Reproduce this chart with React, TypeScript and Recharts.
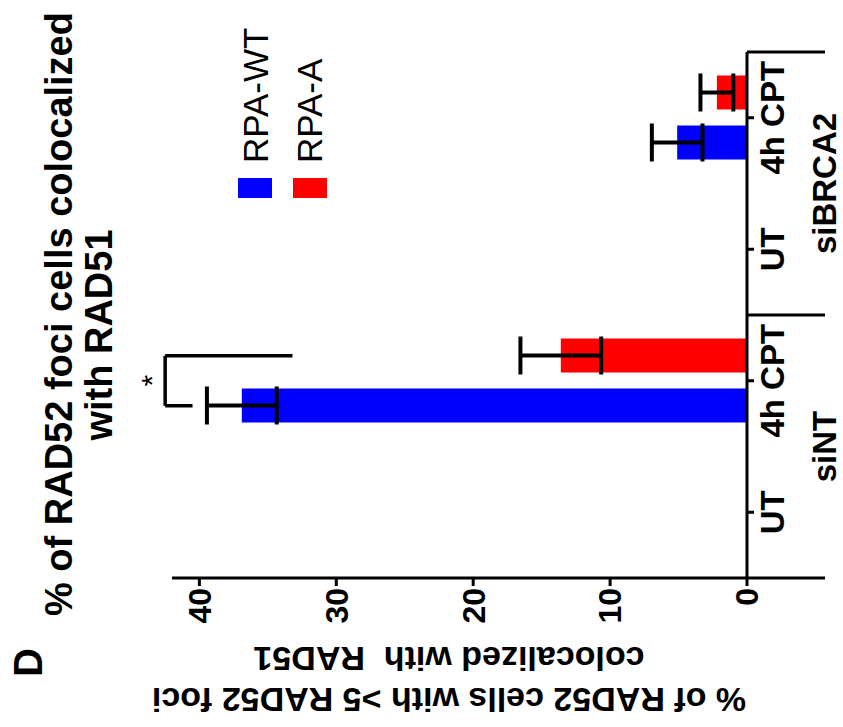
import { BarChart, Bar, XAxis, YAxis, ErrorBar, ReferenceLine, ReferenceDot } from 'recharts';

// categories along the x axis, grouped in pairs
const categories = ['UT', '4h CPT', 'UT', '4h CPT'];
const groups = ['siNT', 'siBRCA2'];

// % of RAD52 cells with >5 RAD52 foci colocalized with RAD51 (mean ± error)
const rpaWT = [null, 36.9, null, 5.1];
const rpaWTErr = [null, 2.55, null, 1.85];
const rpaA = [null, 13.6, null, 2.2];
const rpaAErr = [null, 2.95, null, 1.2];

const valueTicks = [0, 10, 20, 30, 40];

// significance bracket over siNT 4h CPT
const bracketTop = 42.5;
const bracketWT = 40.5;
const bracketA = 33.2;
const starLevel = 43.5;

const series = [
  { key: 'wt', err: 'wtErr', name: 'RPA-WT', color: '#0000ff' },
  { key: 'a', err: 'aErr', name: 'RPA-A', color: '#ff0000' },
];

const data = categories.map((c, i) => ({
  id: `${groups[Math.floor(i / 2)]} ${c}`,
  pos: i + 0.5,
  wt: rpaWT[i],
  wtErr: rpaWTErr[i],
  a: rpaA[i],
  aErr: rpaAErr[i],
}));

// the figure is drawn upright and then turned a quarter turn to the left
const W = 727;
const H = 843;
const PLOT_LEFT = 149;
const PLOT_RIGHT = 675;
const PLOT_TOP = 172;
const PLOT_BOTTOM = 747;
const YAXIS_W = 110;
const XAXIS_H = 90;
const BAND = (PLOT_RIGHT - PLOT_LEFT) / categories.length;
const BAR_SIZE = 34;
const BAR_GAP = 16;
const FONT = '"Liberation Sans", Arial, Helvetica, sans-serif';

const barShift = (BAR_SIZE + BAR_GAP) / 2 / BAND;

function CategoryTick(props: any) {
  const { x, index } = props;
  const half = BAND / 2;
  const seps: number[] = [];
  if (index % 2 === 0) seps.push(x - half);
  if (index === categories.length - 1) seps.push(x + half);
  return (
    <g>
      {seps.map((sx) => (
        <line key={sx} x1={sx} x2={sx} y1={PLOT_BOTTOM} y2={PLOT_BOTTOM + 78} stroke="#000" strokeWidth={3} />
      ))}
      <text x={x} y={PLOT_BOTTOM + 37} textAnchor="middle" fontSize={33} fontWeight="bold" fontFamily={FONT} fill="#000">
        {categories[index]}
      </text>
      {index % 2 === 0 && (
        <text x={x + half} y={PLOT_BOTTOM + 89} textAnchor="middle" fontSize={33} fontWeight="bold" fontFamily={FONT} fill="#000">
          {groups[index / 2]}
        </text>
      )}
    </g>
  );
}

function ValueTitle() {
  const cy = 449;
  return (
    <g fontFamily={FONT} fontWeight="bold" fontSize={34} fill="#000">
      <text x={39} y={cy} textAnchor="middle" transform={`rotate(-90 39 ${cy})`}>
        % of RAD52 cells with &gt;5 RAD52 foci
      </text>
      <text x={80} y={cy} textAnchor="middle" transform={`rotate(-90 80 ${cy})`} style={{ whiteSpace: 'pre' }}>
        {'colocalized with  RAD51'}
      </text>
    </g>
  );
}

export default function App() {
  const c = 1.5; // centre of siNT 4h CPT on the hidden numeric axis
  const bracket = { xAxisId: 'num', stroke: '#000', strokeWidth: 3.5, ifOverflow: 'visible' as const };
  return (
    <div style={{ position: 'fixed', left: 0, top: 0, width: H, height: W, overflow: 'hidden', background: '#fff' }}>
      <div
        style={{
          position: 'absolute',
          left: 0,
          top: 0,
          width: W,
          height: H,
          transformOrigin: '0 0',
          transform: `translate(0px, ${W}px) rotate(-90deg)`,
        }}
      >
        <BarChart
          width={W}
          height={H}
          data={data}
          barGap={BAR_GAP}
          margin={{
            top: PLOT_TOP,
            right: W - PLOT_RIGHT,
            left: PLOT_LEFT - YAXIS_W,
            bottom: H - PLOT_BOTTOM - XAXIS_H,
          }}
        >
          <XAxis
            xAxisId="cat"
            dataKey="id"
            type="category"
            height={XAXIS_H}
            axisLine={{ stroke: '#000', strokeWidth: 3 }}
            tickLine={{ stroke: '#000', strokeWidth: 3 }}
            tickSize={7}
            tickMargin={0}
            interval={0}
            tick={<CategoryTick />}
          />
          <XAxis
            xAxisId="num"
            dataKey="pos"
            type="number"
            domain={[0, categories.length]}
            allowDataOverflow
            hide
          />
          <YAxis
            type="number"
            domain={[0, 42]}
            ticks={valueTicks}
            width={YAXIS_W}
            axisLine={{ stroke: '#000', strokeWidth: 3 }}
            tickLine={{ stroke: '#000', strokeWidth: 3 }}
            tickSize={8}
            tickMargin={2}
            tick={{ fill: '#000', fontSize: 32, fontWeight: 'bold', fontFamily: FONT }}
            label={<ValueTitle />}
          />
          {series.map((s) => (
            <Bar key={s.key} xAxisId="cat" dataKey={s.key} name={s.name} fill={s.color} barSize={BAR_SIZE} isAnimationActive={false}>
              <ErrorBar dataKey={s.err} width={19} strokeWidth={4} stroke="#000" direction="y" />
            </Bar>
          ))}
          <ReferenceLine {...bracket} segment={[{ x: c - barShift, y: bracketTop }, { x: c + barShift, y: bracketTop }]} />
          <ReferenceLine {...bracket} segment={[{ x: c - barShift, y: bracketTop }, { x: c - barShift, y: bracketWT }]} />
          <ReferenceLine {...bracket} segment={[{ x: c + barShift, y: bracketTop }, { x: c + barShift, y: bracketA }]} />
          <ReferenceDot
            xAxisId="num"
            x={c}
            y={starLevel}
            r={0}
            fill="none"
            stroke="none"
            ifOverflow="visible"
            label={{ value: '*', position: 'center', fontSize: 30, fill: '#000', fontFamily: FONT }}
          />
        </BarChart>
        <svg width={W} height={H} style={{ position: 'absolute', left: 0, top: 0, pointerEvents: 'none' }} fontFamily={FONT}>
          <text x={50} y={42} fontSize={40} fontWeight="bold" fill="#000">D</text>
          <text x={413} y={72} textAnchor="middle" fontSize={38} fontWeight="bold" fill="#000">
            % of RAD52 foci cells colocalized
          </text>
          <text x={392} y={112} textAnchor="middle" fontSize={38} fontWeight="bold" fill="#000">
            with RAD51
          </text>
          {series.map((s, i) => (
            <g key={s.key}>
              <rect x={529} y={238 + i * 55} width={20} height={34} fill={s.color} />
              <text x={564} y={268 + i * 54} fontSize={35} fill="#000">{s.name}</text>
            </g>
          ))}
        </svg>
      </div>
    </div>
  );
}
